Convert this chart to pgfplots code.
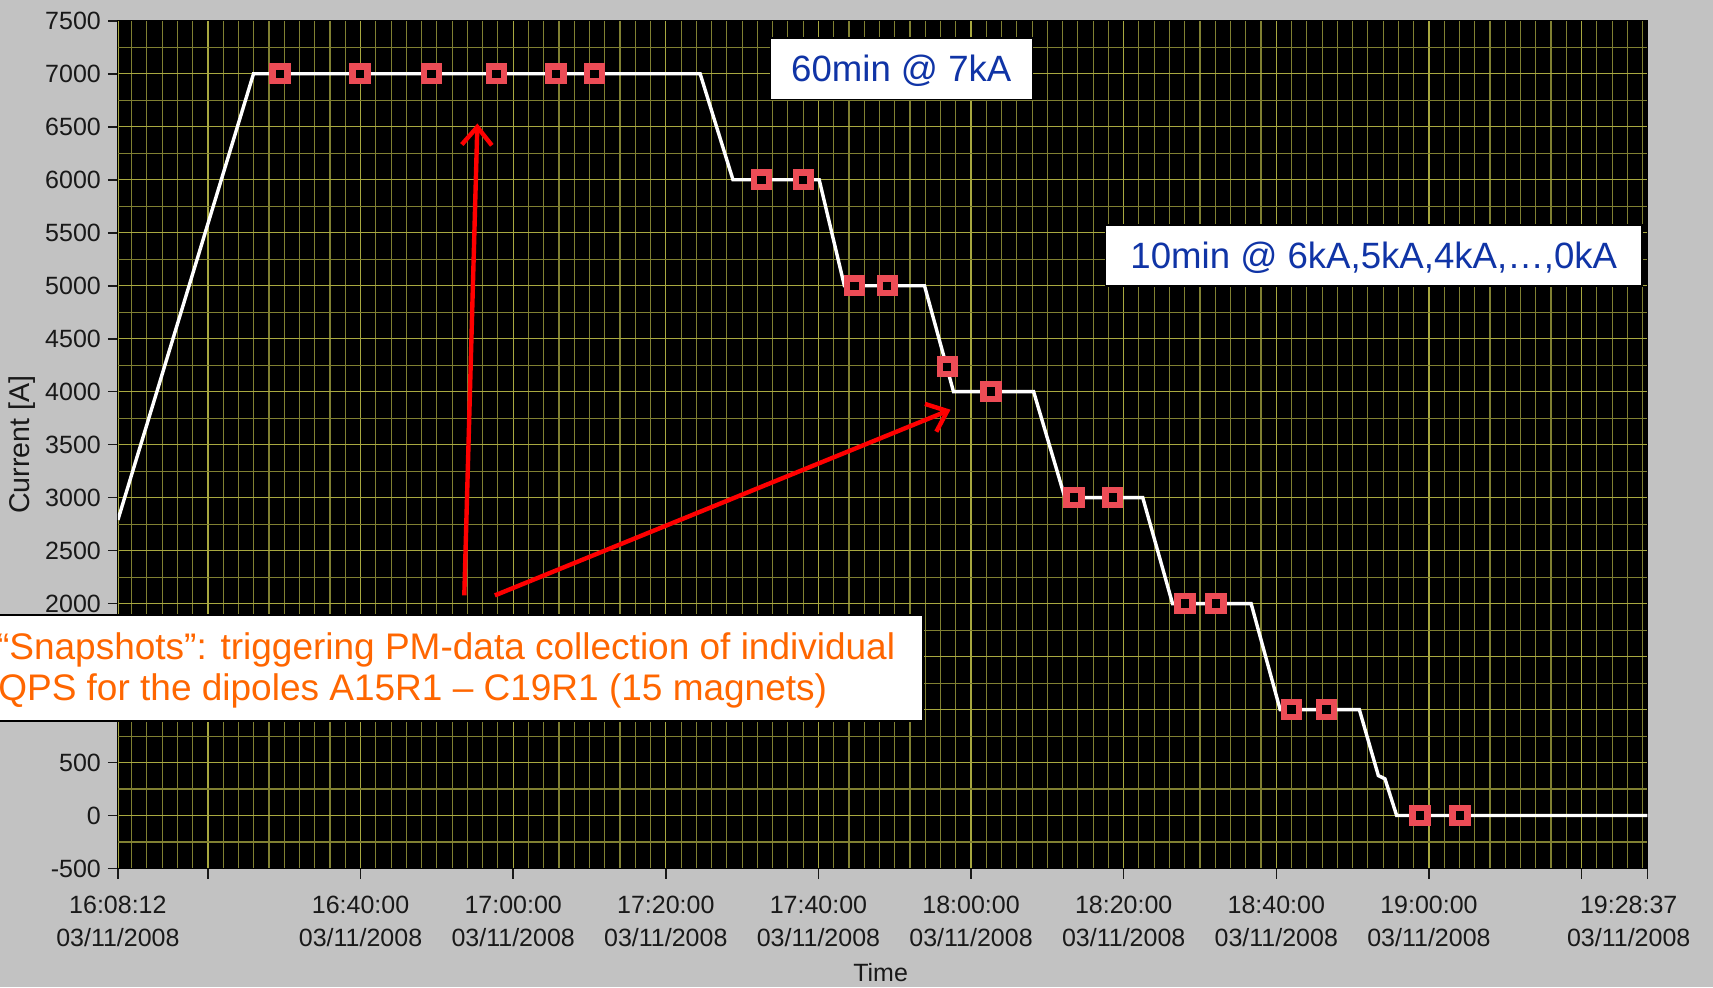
\documentclass[border=0pt]{standalone}
\usepackage{fontspec}
\setmainfont{Liberation Sans}
\usepackage{pgfplots}
\pgfplotsset{compat=1.18}
\usetikzlibrary{arrows.meta}

\definecolor{panelgray}{RGB}{194,194,194}
\definecolor{gridmaj}{RGB}{168,168,64}
\definecolor{gridmin}{RGB}{128,128,50}
\definecolor{snapred}{RGB}{236,76,86}
\definecolor{noteblue}{RGB}{16,52,166}
\definecolor{noteorange}{RGB}{255,102,0}
\definecolor{ticktext}{RGB}{25,25,25}

\begin{document}
\begin{tikzpicture}
% panel background, also fixes the picture size
\path[use as bounding box, fill=panelgray] (-58.95pt,-59.25pt) rectangle (797.55pt,434.25pt);
\begin{axis}[
  at={(0pt,0pt)}, anchor=south west,
  scale only axis, width=764.7pt, height=423.85pt,
  xmin=8.2, xmax=208.617, ymin=-500, ymax=7500,
  axis background/.style={fill=black},
  axis line style={black},
  tick pos=left, tick align=outside,
  major tick length=5pt, minor tick length=0pt,
  tick style={ticktext, line width=0.8pt},
  grid=both,
  major grid style={gridmaj, line width=0.65pt},
  minor grid style={gridmin, line width=0.55pt},
  % time axis: minutes after 16:00
  xtick={8.2,20,40,60,80,100,120,140,160,180,200},
  xticklabels={{16:08:12\\03/11/2008},{},{16:40:00\\03/11/2008},{17:00:00\\03/11/2008},{17:20:00\\03/11/2008},{17:40:00\\03/11/2008},{18:00:00\\03/11/2008},{18:20:00\\03/11/2008},{18:40:00\\03/11/2008},{19:00:00\\03/11/2008},{}},
  extra x ticks={208.617},
  extra x tick labels={{19:28:37\\03/11/2008}},
  extra x tick style={grid=none, xticklabel style={xshift=-9.3pt}},
  minor xtick={10,12,14,16,18,22,24,26,28,30,32,34,36,38,42,44,46,48,50,52,54,56,58,62,64,66,68,70,72,74,76,78,82,84,86,88,90,92,94,96,98,102,104,106,108,110,112,114,116,118,122,124,126,128,130,132,134,136,138,142,144,146,148,150,152,154,156,158,162,164,166,168,170,172,174,176,178,182,184,186,188,190,192,194,196,198,202,204,206,208},
  ytick={-500,0,500,1000,1500,2000,2500,3000,3500,4000,4500,5000,5500,6000,6500,7000,7500},
  % 1000 and 1500 sit behind the note box
  yticklabels={-500,0,500,{},{},2000,2500,3000,3500,4000,4500,5000,5500,6000,6500,7000,7500},
  minor ytick={-250,250,750,1250,1750,2250,2750,3250,3750,4250,4750,5250,5750,6250,6750,7250},
  ticklabel style={font=\fontsize{12.5}{16.6}\selectfont, text=ticktext},
  xticklabel style={align=center, yshift=-5pt},
  ylabel={Current [A]},
  ylabel style={at={(axis description cs:-0.0625,0.5)}, anchor=center, font=\fontsize{14.3}{16}\selectfont, text=ticktext},
  xlabel={Time},
  xlabel style={at={(axis description cs:0.4987,-0.1224)}, anchor=center, font=\fontsize{12.5}{15}\selectfont, text=ticktext},
]
% snapshot triggers
\addplot[only marks, mark=square*, mark size=3.7pt,
  mark options={draw=snapred, fill=black, line width=3.2pt}] coordinates {
  (29.45,7000) (39.93,7000) (49.32,7000) (57.83,7000) (65.61,7000) (70.63,7000)
  (92.54,6000) (98.0,6000)
  (104.71,5000) (109.0,5000)
  (116.87,4235) (122.6,4000)
  (133.5,3000) (138.57,3000)
  (148.04,2000) (152.09,2000)
  (161.97,1000) (166.56,1000)
  (178.84,0) (184.08,0)
};
% magnet current
\addplot[white, line width=1.7pt, mark=none] coordinates {
  (8.2,2790) (25.97,7000) (84.5,7000) (88.8,6000) (100.1,6000)
  (103.4,5000) (113.9,5000) (117.7,4000) (128.2,4000)
  (132.3,3000) (142.5,3000) (146.4,2000) (156.7,2000)
  (160.5,1000) (170.88,1000) (173.37,377) (174.24,346) (175.77,0)
  (208.617,0)
};
\end{axis}

% notes
\node[draw=black, line width=0.8pt, fill=white, inner sep=0pt,
  minimum width=131pt, minimum height=30.6pt, text height=13.2pt, text depth=0pt,
  text=noteblue, font=\fontsize{18.3}{22}\selectfont] at (391.7pt,399.85pt) {60min @ 7kA};
\node[draw=black, line width=0.8pt, fill=white, inner sep=0pt,
  minimum width=268.2pt, minimum height=30.6pt, text height=13.2pt, text depth=0pt,
  text=noteblue, font=\fontsize{18.3}{22}\selectfont] at (627.95pt,306.45pt) {10min @ 6kA,5kA,4kA,\ldots,0kA};

\draw[red, line width=2.2pt, -{Straight Barb[length=9pt, width=15pt]}] (173.2pt,136.55pt) -- (179.75pt,372.5pt);
\draw[red, line width=2.2pt, -{Straight Barb[length=9pt, width=15pt]}] (188.5pt,136.55pt) -- (416.3pt,229.4pt);

\draw[black, line width=0.8pt, fill=white] (-80pt,73.75pt) rectangle (402.55pt,126.75pt);
\node[anchor=base west, inner sep=0pt, text=noteorange, font=\fontsize{18.5}{20}\selectfont] at (-60.6pt,104.4pt) {“Snapshots”: triggering PM-data collection of individual};
\node[anchor=base west, inner sep=0pt, text=noteorange, font=\fontsize{18.5}{20}\selectfont] at (-60.0pt,84.0pt) {QPS for the dipoles A15R1 – C19R1 (15 magnets)};
\end{tikzpicture}
\end{document}
